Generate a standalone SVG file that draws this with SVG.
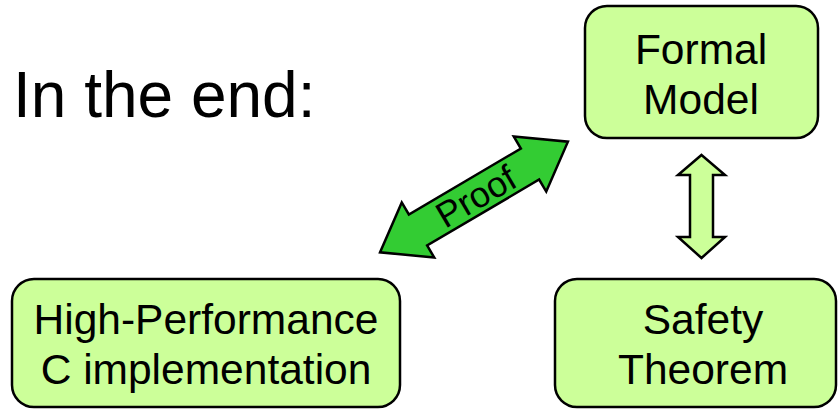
<svg xmlns="http://www.w3.org/2000/svg" width="838" height="410" viewBox="0 0 838 410">
<style>
.box{fill:#CCFF99;stroke:#000;stroke-width:2.5}
.lbl{font-family:"Liberation Sans",Arial,sans-serif;font-size:42.5px;fill:#000;text-anchor:middle}
.title{font-family:"Liberation Sans",Arial,sans-serif;font-size:64px;fill:#000}
</style>
<rect width="838" height="410" fill="#fff"/>
<text class="title" x="13" y="117">In the end:</text>
<g id="formal-model">
<rect class="box" x="585" y="6" width="233" height="132" rx="22"/>
<text class="lbl" x="701" y="64">Formal</text>
<text class="lbl" x="701" y="114">Model</text>
</g>
<g id="high-performance">
<rect class="box" x="12" y="279" width="388" height="128" rx="22"/>
<text class="lbl" x="206" y="334">High-Performance</text>
<text class="lbl" x="206" y="384">C implementation</text>
</g>
<g id="safety-theorem">
<rect class="box" x="555" y="279" width="281" height="128" rx="22"/>
<text class="lbl" x="703" y="334">Safety</text>
<text class="lbl" x="703" y="384">Theorem</text>
</g>
<g id="connectors">
<g id="proof-arrow" transform="translate(474,197) rotate(-30.5)">
<polygon points="-109,0 -65,-32 -65,-18 65,-18 65,-32 109,0 65,32 65,18 -65,18 -65,32" fill="#33CC33" stroke="#000" stroke-width="2.5" stroke-linejoin="miter"/>
<text x="2" y="13" font-family="Liberation Sans,Arial,sans-serif" font-size="36" text-anchor="middle" fill="#000">Proof</text>
</g>
<polygon id="model-theorem-arrow" points="701.5,155 725,175 713,175 713,237 725,237 701.5,258 678,237 690,237 690,175 678,175" fill="#CCFF99" stroke="#000" stroke-width="2.5"/>
</g>
</svg>
